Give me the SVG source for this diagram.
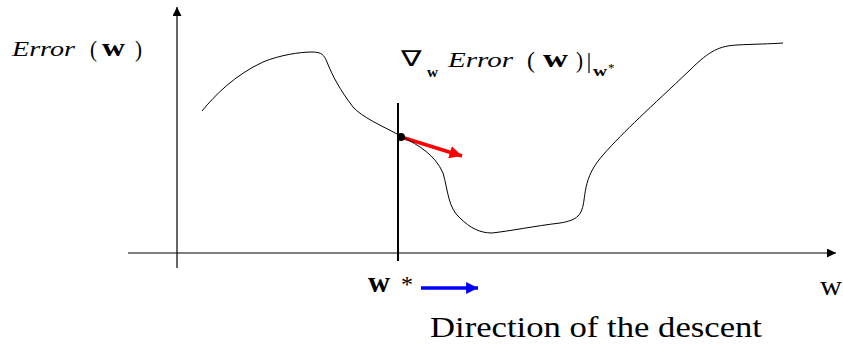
<svg xmlns="http://www.w3.org/2000/svg" width="843" height="345" viewBox="0 0 843 345">
<style>
.t{font-family:"Liberation Serif","Times New Roman",serif;fill:#000}
.ax{stroke:#000;stroke-width:1.2;fill:none}
</style>
<defs>
<marker id="ah" viewBox="0 0 10 10" refX="10" refY="5" markerWidth="9" markerHeight="9" markerUnits="userSpaceOnUse" orient="auto"><path d="M0,0 L10,5 L0,10 z" fill="#000"/></marker>
<marker id="rh" viewBox="0 0 10 10" refX="10" refY="5" markerWidth="3.6" markerHeight="3.6" orient="auto"><path d="M0,0 L10,5 L0,10 z" fill="#f00"/></marker>
<marker id="bh" viewBox="0 0 10 10" refX="10" refY="5" markerWidth="3.4" markerHeight="3.4" orient="auto"><path d="M0,0 L10,5 L0,10 z" fill="#00f"/></marker>
</defs>
<rect width="843" height="345" fill="#fff"/>
<g id="connectors">
<line class="ax" x1="177" y1="268" x2="177" y2="7" marker-end="url(#ah)"/>
<line class="ax" x1="128" y1="253" x2="836" y2="253" marker-end="url(#ah)"/>
<line x1="398" y1="103" x2="398" y2="261" stroke="#000" stroke-width="2"/>
<line x1="401" y1="137" x2="462" y2="156" stroke="#f00" stroke-width="3.5" marker-end="url(#rh)"/>
<line x1="421" y1="288" x2="478" y2="288" stroke="#00f" stroke-width="3.5" marker-end="url(#bh)"/>
</g>
<g id="curve">
<path d="M202,111 C215,95 235,75 263,62 C280,55 300,52 312,52 C322,52 324,55 327,62 C332,75 340,90 353,107 C362,117 380,125 401,136 C420,146 435,155 443,173 C448,190 448,208 460,218 C470,228 480,233 492,233 C510,231 535,226 560,223 C578,220 582,215 584,200 C586,185 588,172 603,155 C625,130 650,108 690,70 C710,50 720,46 737,45 C755,44 770,44 783,43" fill="none" stroke="#000" stroke-width="1"/>
<circle cx="401" cy="137" r="4" fill="#000"/>
</g>
<g id="ylabel">
<text class="t" x="12" y="56" font-size="21" font-style="italic" textLength="63" lengthAdjust="spacingAndGlyphs">Error</text>
<text class="t" x="90" y="57" font-size="24" textLength="7" lengthAdjust="spacingAndGlyphs">(</text>
<text class="t" x="102" y="56" font-size="26" font-weight="bold" textLength="23" lengthAdjust="spacingAndGlyphs">w</text>
<text class="t" x="135" y="57" font-size="24" textLength="7" lengthAdjust="spacingAndGlyphs">)</text>
</g>
<g id="gradlabel">
<text class="t" x="401" y="66" font-size="22" textLength="21" lengthAdjust="spacingAndGlyphs">∇</text>
<text class="t" x="427" y="77" font-size="14" font-weight="bold" textLength="11" lengthAdjust="spacingAndGlyphs">w</text>
<text class="t" x="448" y="67" font-size="21" font-style="italic" textLength="65" lengthAdjust="spacingAndGlyphs">Error</text>
<text class="t" x="527" y="68" font-size="24" textLength="8" lengthAdjust="spacingAndGlyphs">(</text>
<text class="t" x="543" y="67" font-size="26" font-weight="bold" textLength="25" lengthAdjust="spacingAndGlyphs">w</text>
<text class="t" x="576" y="68" font-size="24" textLength="7" lengthAdjust="spacingAndGlyphs">)</text>
<line x1="589" y1="53" x2="589" y2="73" stroke="#000" stroke-width="1.2"/>
<text class="t" x="593" y="76" font-size="14" font-weight="bold" textLength="14" lengthAdjust="spacingAndGlyphs">w</text>
<text class="t" x="608" y="72" font-size="13">*</text>
</g>
<g id="wstar">
<text class="t" x="368" y="292" font-size="30" font-weight="bold" textLength="22" lengthAdjust="spacingAndGlyphs">w</text>
<text class="t" x="401" y="292" font-size="24" textLength="12" lengthAdjust="spacingAndGlyphs">*</text>
</g>
<g id="xlabel">
<text class="t" x="820" y="295" font-size="27" textLength="22" lengthAdjust="spacingAndGlyphs">w</text>
</g>
<g id="desc">
<text class="t" x="430" y="337" font-size="29" textLength="332" lengthAdjust="spacingAndGlyphs">Direction of the descent</text>
</g>
</svg>
